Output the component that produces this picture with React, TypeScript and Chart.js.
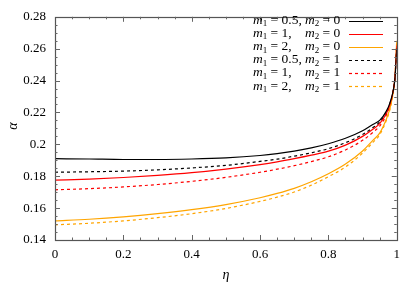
import { useEffect, useRef } from 'react';
import { Chart, registerables } from 'chart.js';
Chart.register(...registerables);

const FONT = '"Liberation Serif", "DejaVu Serif", serif';

const eta = [0, 0.1, 0.2, 0.3, 0.4, 0.5, 0.6, 0.65, 0.7, 0.75, 0.8, 0.85, 0.9, 0.93, 0.95, 0.97, 0.98, 0.99, 0.995, 1.0];

const alphaM05M0 = [0.1910, 0.1908, 0.1905, 0.1905, 0.1908, 0.1915, 0.1930, 0.1942, 0.1958, 0.1978, 0.2004, 0.2038, 0.2085, 0.2125, 0.2150, 0.2210, 0.2260, 0.2340, 0.2420, 0.2600];
const alphaM1M0 = [0.1775, 0.1782, 0.1792, 0.1805, 0.1822, 0.1845, 0.1873, 0.1890, 0.1910, 0.1932, 0.1957, 0.1995, 0.2050, 0.2095, 0.2130, 0.2195, 0.2250, 0.2340, 0.2425, 0.2620];
const alphaM2M0 = [0.1520, 0.1530, 0.1545, 0.1565, 0.1590, 0.1622, 0.1665, 0.1692, 0.1724, 0.1765, 0.1815, 0.1876, 0.1958, 0.2025, 0.2070, 0.2160, 0.2225, 0.2330, 0.2430, 0.2650];
const alphaM05M1 = [0.1825, 0.1828, 0.1832, 0.1840, 0.1852, 0.1868, 0.1893, 0.1907, 0.1926, 0.1947, 0.1973, 0.2010, 0.2062, 0.2105, 0.2140, 0.2200, 0.2255, 0.2340, 0.2420, 0.2610];
const alphaM1M1 = [0.1715, 0.1722, 0.1733, 0.1748, 0.1768, 0.1793, 0.1825, 0.1844, 0.1866, 0.1892, 0.1922, 0.1965, 0.2025, 0.2075, 0.2115, 0.2185, 0.2245, 0.2340, 0.2430, 0.2630];
const alphaM2M1 = [0.1495, 0.1505, 0.1520, 0.1540, 0.1565, 0.1598, 0.1642, 0.1669, 0.1701, 0.1744, 0.1797, 0.1858, 0.1945, 0.2012, 0.2060, 0.2152, 0.2218, 0.2330, 0.2430, 0.2650];

const seriesList = [alphaM05M0, alphaM1M0, alphaM2M0, alphaM05M1, alphaM1M1, alphaM2M1];
const m1Labels = ['0.5', '1', '2', '0.5', '1', '2'];
const m2Labels = ['0', '0', '0', '1', '1', '1'];
const seriesColors = ['#000000', '#ff0000', '#ffa500', '#000000', '#ff0000', '#ffa500'];
const seriesDashed = [false, false, false, true, true, true];

const xTickLabels = ['0', '0.2', '0.4', '0.6', '0.8', '1'];
const yTickLabels = ['0.14', '0.16', '0.18', '0.2', '0.22', '0.24', '0.26', '0.28'];

const fmt = (v: number) => Number(Number(v).toFixed(2)).toString();

const decorPlugin = {
  id: 'decor',
  afterDraw(chart: any) {
    const ctx = chart.ctx as CanvasRenderingContext2D;
    const { left, right, top, bottom } = chart.chartArea;
    const xs = chart.scales.x;
    const ys = chart.scales.y;
    ctx.save();
    // frame
    ctx.strokeStyle = '#555';
    ctx.lineWidth = 1.2;
    ctx.strokeRect(Math.round(left) + 0.5, Math.round(top) + 0.5, Math.round(right - left), Math.round(bottom - top));
    // ticks
    ctx.strokeStyle = '#666';
    ctx.lineWidth = 1;
    ctx.beginPath();
    for (let i = 1; i < 20; i++) {
      const v = i * 0.05;
      const px = Math.round(xs.getPixelForValue(v)) + 0.5;
      const len = i % 4 === 0 ? 5 : 2.5;
      ctx.moveTo(px, bottom); ctx.lineTo(px, bottom - len);
      ctx.moveTo(px, top); ctx.lineTo(px, top + len);
    }
    for (let i = 1; i < 28; i++) {
      const v = 0.14 + i * 0.005;
      const py = Math.round(ys.getPixelForValue(v)) + 0.5;
      const len = i % 4 === 0 ? 5 : 2.5;
      ctx.moveTo(left, py); ctx.lineTo(left + len, py);
      ctx.moveTo(right, py); ctx.lineTo(right - len, py);
    }
    ctx.stroke();
    // axis titles
    ctx.fillStyle = '#000';
    ctx.font = 'italic 14px ' + FONT;
    ctx.textAlign = 'center';
    ctx.textBaseline = 'middle';
    ctx.fillText('η', 226, 275);
    ctx.save();
    ctx.translate(13, 126);
    ctx.rotate(-Math.PI / 2);
    ctx.fillText('α', 0, 0);
    ctx.restore();
    // legend
    ctx.textAlign = 'left';
    for (let i = 0; i < seriesList.length; i++) {
      const y = 20.5 + i * 13.1;
      let x = 253;
      ctx.font = 'italic 13.5px ' + FONT;
      ctx.fillText('m', x, y);
      x += ctx.measureText('m').width;
      ctx.font = '9px ' + FONT;
      ctx.fillText('1', x, y + 3.5);
      x += ctx.measureText('1').width;
      ctx.font = '13.5px ' + FONT;
      ctx.fillText(' = ' + m1Labels[i] + ',', x, y);
      x = 305;
      ctx.font = 'italic 13.5px ' + FONT;
      ctx.fillText('m', x, y);
      x += ctx.measureText('m').width;
      ctx.font = '9px ' + FONT;
      ctx.fillText('2', x, y + 3.5);
      x += ctx.measureText('2').width;
      ctx.font = '13.5px ' + FONT;
      ctx.fillText(' = ' + m2Labels[i], x, y);
      ctx.strokeStyle = seriesColors[i];
      ctx.lineWidth = 1.2;
      ctx.setLineDash(seriesDashed[i] ? [3, 3] : []);
      ctx.beginPath();
      ctx.moveTo(349, Math.round(y) + 0.5);
      ctx.lineTo(383, Math.round(y) + 0.5);
      ctx.stroke();
      ctx.setLineDash([]);
    }
    ctx.restore();
  },
};

export default function App() {
  const ref = useRef<HTMLCanvasElement>(null);
  useEffect(() => {
    if (!ref.current) return;
    const datasets = seriesList.map((s, i) => ({
      label: 'm1 = ' + m1Labels[i] + ', m2 = ' + m2Labels[i],
      data: eta.map((x, j) => ({ x, y: s[j] })),
      borderColor: seriesColors[i],
      backgroundColor: seriesColors[i],
      borderWidth: 1.2,
      borderDash: seriesDashed[i] ? [3, 3] : [],
      pointRadius: 0,
      fill: false,
      cubicInterpolationMode: 'monotone' as const,
    }));
    const chart = new Chart(ref.current, {
      type: 'line',
      data: { datasets },
      options: {
        responsive: false,
        animation: false,
        devicePixelRatio: 1,
        layout: { padding: { left: 0, right: 9, top: 12, bottom: 0 } },
        plugins: { legend: { display: false }, tooltip: { enabled: false } },
        scales: {
          x: {
            type: 'linear',
            min: 0,
            max: 1,
            afterBuildTicks: (s: any) => { s.ticks = xTickLabels.map((t) => ({ value: Number(t) })); },
            ticks: { color: '#000', font: { family: FONT, size: 13 }, padding: 7, autoSkip: false, maxRotation: 0, callback: (v: any) => fmt(v) },
            grid: { display: false, drawTicks: false },
            border: { display: false },
            afterFit: (s: any) => { s.height = 44; },
          },
          y: {
            type: 'linear',
            min: 0.14,
            max: 0.28,
            afterBuildTicks: (s: any) => { s.ticks = yTickLabels.map((t) => ({ value: Number(t) })); },
            ticks: { color: '#000', font: { family: FONT, size: 13 }, padding: 9, autoSkip: false, callback: (v: any) => fmt(v) },
            grid: { display: false, drawTicks: false },
            border: { display: false },
            afterFit: (s: any) => { s.width = 55; },
          },
        },
      },
      plugins: [decorPlugin],
    });
    return () => chart.destroy();
  }, []);
  return (
    <div style={{ position: 'absolute', left: 0, top: 0, width: 407, height: 284, background: '#fff' }}>
      <canvas ref={ref} width={407} height={284} style={{ display: 'block', width: 407, height: 284 }} />
    </div>
  );
}
